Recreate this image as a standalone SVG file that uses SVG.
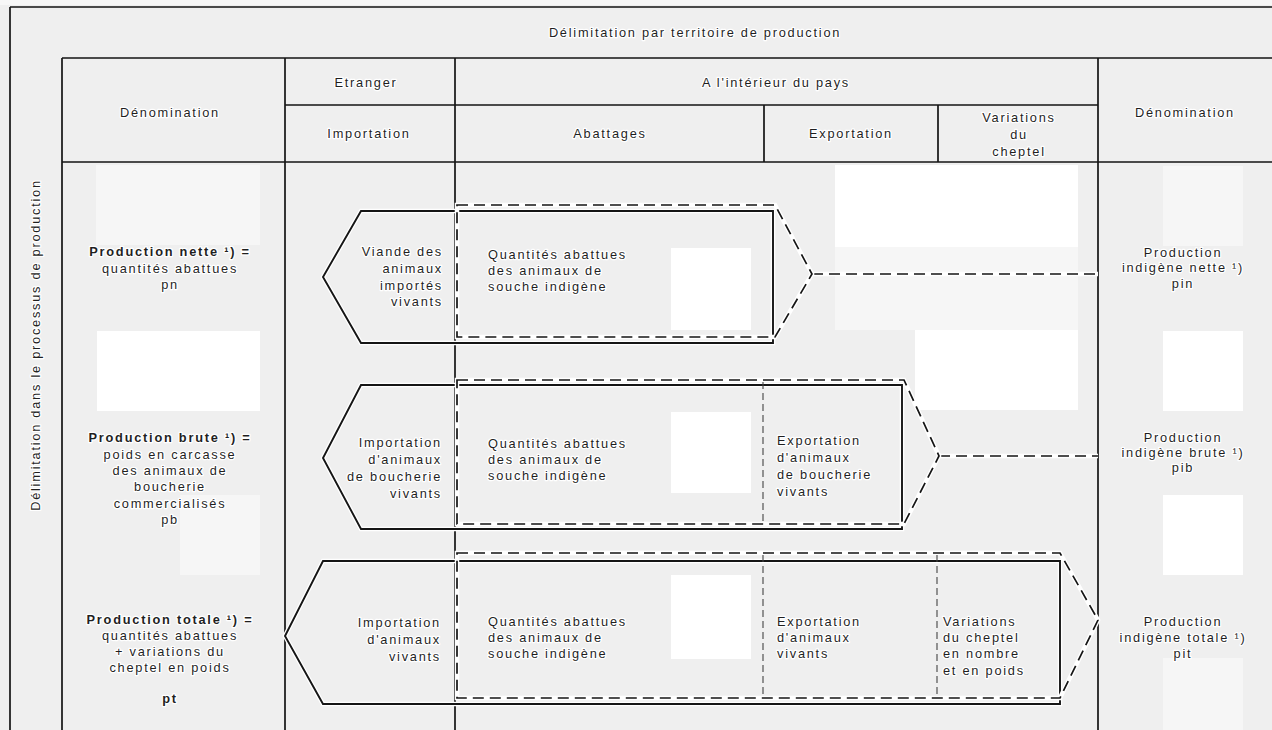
<svg xmlns="http://www.w3.org/2000/svg" width="1272" height="730" viewBox="0 0 1272 730">
<style>
text{font-family:"Liberation Sans",Arial,sans-serif;font-size:12.8px;letter-spacing:1.75px;fill:#1f1f1f;stroke:#ffffff;stroke-width:2.5px;paint-order:stroke;stroke-linejoin:round}
.c{text-anchor:middle}
.r{text-anchor:end}
.b{font-weight:bold}
.grid{stroke:#151515;stroke-width:1.7;fill:none}
.solid{stroke:#151515;stroke-width:1.9;fill:none}
.halo{stroke:#ffffff;stroke-width:4.5;fill:none}
.dash{stroke:#151515;stroke-width:1.7;fill:none;stroke-dasharray:11 6}
.idash{stroke:#444;stroke-width:1.1;fill:none;stroke-dasharray:7 4}
.pw{fill:#ffffff}
.pf{fill:#f6f6f6}
</style>
<rect x="0" y="0" width="1272" height="730" fill="#efefef"/>
<rect x="0" y="0" width="1272" height="5" fill="#f7f7f7"/>
<g id="patches">
<rect class="pf" x="96" y="165" width="164" height="80"/>
<rect class="pw" x="97" y="331" width="163" height="80"/>
<rect class="pf" x="180" y="495" width="80" height="80"/>
<rect class="pw" x="671" y="248" width="80" height="82"/>
<rect class="pw" x="835" y="165" width="243" height="82"/>
<rect class="pf" x="835" y="247" width="243" height="83"/>
<rect class="pw" x="915" y="330" width="163" height="80"/>
<rect class="pw" x="671" y="412" width="80" height="81"/>
<rect class="pw" x="671" y="575" width="80" height="84"/>
<rect class="pf" x="1163" y="166" width="80" height="80"/>
<rect class="pw" x="1163" y="331" width="80" height="80"/>
<rect class="pw" x="1163" y="495" width="80" height="80"/>
<rect class="pf" x="1163" y="658" width="80" height="72"/>
</g>
<g id="frame">
<path class="grid" d="M10,7 H1272 M10,7 V730"/>
<path class="grid" d="M62,58 H1272 M62,162 H1272 M285,105 H1098 M62,58 V730 M285,58 V730 M455,58 V730 M1098,58 V730 M764,105 V162 M938,105 V162"/>
</g>
<g id="header">
<text class="c" x="695" y="37">Délimitation par territoire de production</text>
<text class="c" x="36" y="349" transform="rotate(-90 36 345)">Délimitation dans le processus de production</text>
<text class="c" x="170" y="117">Dénomination</text>
<text class="c" x="366" y="87">Etranger</text>
<text class="c" x="776" y="87">A l'intérieur du pays</text>
<text class="c" x="369" y="138">Importation</text>
<text class="c" x="610" y="138">Abattages</text>
<text class="c" x="851" y="138">Exportation</text>
<text class="c" x="1019" y="122">Variations</text>
<text class="c" x="1019" y="139">du</text>
<text class="c" x="1019" y="156">cheptel</text>
<text class="c" x="1185" y="117">Dénomination</text>
</g>
<g id="connectors">
<path class="halo" d="M812,274 H1098 M939,456 H1098"/>
<path class="dash" d="M812,274 H1098 M939,456 H1098"/>
</g>
<g id="row1">
<path class="halo" d="M361,211 H773 V343 H361 L323,277 Z"/>
<path class="solid" d="M361,211 H773 V343 H361 L323,277 Z"/>
<path class="halo" d="M457,205 H775 L812,274 L775,337 H457 Z"/>
<path class="dash" d="M457,205 H775 L812,274 L775,337 H457 Z"/>
<text class="c b" x="170" y="256">Production nette ¹) =</text>
<text class="c" x="170" y="273">quantités abattues</text>
<text class="c" x="170" y="289">pn</text>
<text class="r" x="443" y="256">Viande des</text>
<text class="r" x="443" y="273">animaux</text>
<text class="r" x="443" y="290">importés</text>
<text class="r" x="443" y="306">vivants</text>
<text x="488" y="259">Quantités abattues</text>
<text x="488" y="275">des animaux de</text>
<text x="488" y="291">souche indigène</text>
<text class="c" x="1183" y="257">Production</text>
<text class="c" x="1183" y="272">indigène nette ¹)</text>
<text class="c" x="1183" y="288">pin</text>
</g>
<g id="row2">
<path class="halo" d="M361,385 H902 V529 H361 L323,458 Z"/>
<path class="solid" d="M361,385 H902 V529 H361 L323,458 Z"/>
<path class="halo" d="M457,380 H904 L939,456 L904,524 H457 Z"/>
<path class="dash" d="M457,380 H904 L939,456 L904,524 H457 Z"/>
<path class="idash" d="M763,382 V522"/>
<text class="c b" x="170" y="442">Production brute ¹) =</text>
<text class="c" x="170" y="459">poids en carcasse</text>
<text class="c" x="170" y="475">des animaux de</text>
<text class="c" x="170" y="491">boucherie</text>
<text class="c" x="170" y="508">commercialisés</text>
<text class="c" x="170" y="524">pb</text>
<text class="r" x="442" y="447">Importation</text>
<text class="r" x="442" y="464">d'animaux</text>
<text class="r" x="442" y="481">de boucherie</text>
<text class="r" x="442" y="498">vivants</text>
<text x="488" y="448">Quantités abattues</text>
<text x="488" y="464">des animaux de</text>
<text x="488" y="480">souche indigène</text>
<text x="777" y="445">Exportation</text>
<text x="777" y="462">d'animaux</text>
<text x="777" y="479">de boucherie</text>
<text x="777" y="496">vivants</text>
<text class="c" x="1183" y="442">Production</text>
<text class="c" x="1183" y="457">indigène brute ¹)</text>
<text class="c" x="1183" y="472">pib</text>
</g>
<g id="row3">
<path class="halo" d="M323,561 H1060 V704 H323 L285,636 Z"/>
<path class="solid" d="M323,561 H1060 V704 H323 L285,636 Z"/>
<path class="halo" d="M457,553 H1060 L1098,620 L1060,698 H457 Z"/>
<path class="dash" d="M457,553 H1060 L1098,620 L1060,698 H457 Z"/>
<path class="idash" d="M763,555 V696 M937,555 V696"/>
<text class="c b" x="170" y="624">Production totale ¹) =</text>
<text class="c" x="170" y="640">quantités abattues</text>
<text class="c" x="170" y="656">+ variations du</text>
<text class="c" x="170" y="672">cheptel en poids</text>
<text class="c b" x="170" y="703">pt</text>
<text class="r" x="441" y="627">Importation</text>
<text class="r" x="441" y="644">d'animaux</text>
<text class="r" x="441" y="661">vivants</text>
<text x="488" y="626">Quantités abattues</text>
<text x="488" y="642">des animaux de</text>
<text x="488" y="658">souche indigène</text>
<text x="777" y="626">Exportation</text>
<text x="777" y="642">d'animaux</text>
<text x="777" y="658">vivants</text>
<text x="943" y="626">Variations</text>
<text x="943" y="642">du cheptel</text>
<text x="943" y="658">en nombre</text>
<text x="943" y="675">et en poids</text>
<text class="c" x="1183" y="626">Production</text>
<text class="c" x="1183" y="642">indigène totale ¹)</text>
<text class="c" x="1183" y="658">pit</text>
</g>
</svg>
